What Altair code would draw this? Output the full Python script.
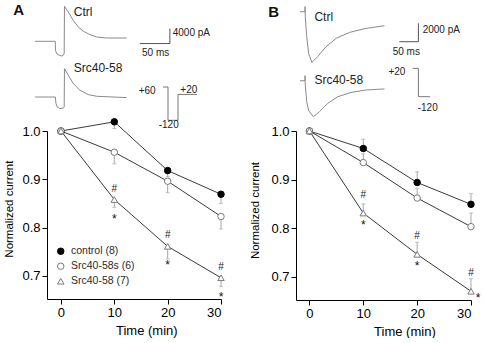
import altair as alt
import pandas as pd

FONT = "Liberation Sans"

# ---- time course of normalized current (mean, s.e.m.) ----
time_min = [0, 10, 20, 30]
series = ["control (8)", "Src40-58s (6)", "Src40-58 (7)"]

# Panel A (error bars drawn downward)
a_control = [1.0, 1.019, 0.918, 0.869]
a_control_err = [0.0, 0.014, 0.013, 0.019]
a_scr = [1.0, 0.956, 0.896, 0.823]
a_scr_err = [0.0, 0.024, 0.024, 0.026]
a_src = [1.0, 0.858, 0.761, 0.696]
a_src_err = [0.0, 0.016, 0.026, 0.018]

# Panel B (error bars drawn upward)
b_control = [1.0, 0.964, 0.894, 0.849]
b_control_err = [0.0, 0.019, 0.022, 0.022]
b_scr = [1.0, 0.935, 0.862, 0.803]
b_scr_err = [0.0, 0.018, 0.020, 0.028]
b_src = [1.0, 0.831, 0.746, 0.670]
b_src_err = [0.0, 0.019, 0.025, 0.026]

# ---- example current traces (time in ms, current in pA) ----
a_ctrl_t = [-34, 0, 0.3, 2.3, 6.7, 10.7, 13.3, 14.8, 15.3, 21.7, 30, 38.3, 46.7, 57.8, 69, 85.7, 119]
a_ctrl_i = [0, 0, -2400, -3280, -3730, -3920, -3730, -3300, 9330, 7810, 5600, 3810, 2670, 1790, 1150, 880, 880]
a_src_t = [-34, 0, 1.2, 3.3, 7.8, 13.3, 14.8, 15.3, 21.7, 30, 41.2, 55, 69, 119]
a_src_i = [0, 0, -1760, -2670, -3090, -2930, -2700, 7570, 5790, 3570, 1790, 640, 190, -160]
b_ctrl_t = [-13, 0, 0.1, 0.8, 4.5, 9.7, 18.4, 33.4, 55.3, 81.6, 116.8, 160.5, 209]
b_ctrl_i = [0, 0, 550, -550, -2730, -4580, -5530, -4900, -3820, -2910, -2260, -1820, -1530]
b_src_t = [-13, 0, 0.1, 0.8, 4.5, 9.7, 22.1, 37.9, 59.7, 86, 121, 160.5, 209]
b_src_i = [0, 0, 550, -550, -2290, -3270, -3930, -3380, -2480, -1750, -1280, -1010, -900]

# scale bars: 50 ms x 4000 pA (A), 50 ms x 2000 pA (B)
a_bar_t = [141, 191, 191]
a_bar_i = [-600, -600, 3400]
b_bar_t = [248.4, 298.4, 298.4]
b_bar_i = [-3272, -3272, -1272]

# voltage protocols (ms, mV)
a_prot_t = [0, 10, 10, 30, 30, 68]
a_prot_v = [60, 60, -120, -120, 20, 20]
b_prot_t = [0, 11.4, 11.4, 35]
b_prot_v = [20, 20, -120, -120]


def summary_frame(means, errs, direction):
    rows = []
    for name, m, e in zip(series, means, errs):
        for t, v, s in zip(time_min, m, e):
            lo, hi = (v - s, v) if direction < 0 else (v, v + s)
            rows.append(dict(time=t, series=name, mean=v, err=s, lo=lo, hi=hi,
                             end=lo if direction < 0 else hi))
    return pd.DataFrame(rows)


def path_frame(t, v):
    return pd.DataFrame({"t": t, "v": v, "i": list(range(len(t)))})


def text_frame(labels, t, v):
    return pd.DataFrame({"label": labels, "t": t, "v": v})


def main_plot(df, shapes, fills, strokes, xdom, ytitle_xy, xtitle_xy, legend_xy,
              hash_dy, star_dy, star_last_dx, star_last_dy):
    xs = alt.Scale(domain=xdom, nice=False, zero=False)
    ys = alt.Scale(domain=[0.652, 1.0], nice=False, zero=False)
    x = alt.X("time:Q", scale=xs, axis=alt.Axis(
        values=time_min, title="Time (min)", orient="bottom",
        titleX=xtitle_xy[0], titleY=xtitle_xy[1], titleBaseline="middle",
        titleFontSize=13, titleFontWeight=400))
    y_axis = alt.Axis(values=[0.7, 0.8, 0.9, 1.0], format=".1f", title="Normalized current",
                      orient="left", titleX=ytitle_xy[0], titleY=ytitle_xy[1],
                      titleBaseline="middle", titleFontSize=11.5, titleFontWeight=400)
    base = alt.Chart(df)
    err = base.transform_filter("datum.err > 0")
    rules = err.mark_rule(color="#a8a8a8", strokeWidth=1).encode(
        x=x, y=alt.Y("lo:Q", scale=ys, axis=y_axis), y2="hi:Q")
    caps = err.mark_tick(color="#a8a8a8", orient="horizontal", size=4, thickness=1).encode(
        x="time:Q", y=alt.Y("end:Q", scale=ys))
    lines = base.mark_line(color="#3a3a3a", strokeWidth=1).encode(
        x="time:Q", y=alt.Y("mean:Q", scale=ys), detail="series:N")
    leg = alt.Legend(orient="none", legendX=legend_xy[0], legendY=legend_xy[1], title=None,
                     labelFont=FONT, labelFontSize=10.5, labelColor="#2a2a2a",
                     symbolSize=42, symbolStrokeWidth=1, rowPadding=4, labelOffset=5,
                     padding=0)
    points = base.mark_point(opacity=1, strokeWidth=1, size=42).encode(
        x="time:Q", y=alt.Y("mean:Q", scale=ys),
        shape=alt.Shape("series:N", scale=alt.Scale(domain=series, range=shapes), legend=leg),
        fill=alt.Fill("series:N", scale=alt.Scale(domain=series, range=fills), legend=leg),
        stroke=alt.Stroke("series:N", scale=alt.Scale(domain=series, range=strokes), legend=leg),
    )
    marked = base.transform_filter(
        (alt.datum.series == series[2]) & (alt.datum.time > 0))
    hashes = marked.mark_text(text="#", font=FONT, fontSize=10, color="#222",
                              baseline="alphabetic", dy=hash_dy).encode(
        x="time:Q", y=alt.Y("mean:Q", scale=ys))
    star_src = marked if star_last_dx == 0 else marked.transform_filter("datum.time < 30")
    stars = star_src.mark_text(text="*", font=FONT, fontSize=12, color="#111",
                               baseline="alphabetic", dy=star_dy).encode(
        x="time:Q", y=alt.Y("mean:Q", scale=ys))
    layers = [rules, caps, lines, points, hashes, stars]
    if star_last_dx != 0:
        layers.append(marked.transform_filter("datum.time == 30").mark_text(
            text="*", font=FONT, fontSize=12, color="#111", baseline="alphabetic",
            dx=star_last_dx, dy=star_last_dy).encode(
            x="time:Q", y=alt.Y("mean:Q", scale=ys)))
    return alt.layer(*layers)


def trace(df, xs, ys, color, labels=None, size=12):
    line = alt.Chart(df).mark_line(color=color, strokeWidth=1).encode(
        x=alt.X("t:Q", scale=xs, axis=None), y=alt.Y("v:Q", scale=ys, axis=None),
        order="i:Q")
    if labels is None:
        return line
    txt = alt.Chart(labels).mark_text(font=FONT, fontSize=size, align="left",
                                      baseline="middle", color="#222").encode(
        x=alt.X("t:Q", scale=xs, axis=None), y=alt.Y("v:Q", scale=ys, axis=None),
        text="label:N")
    return alt.layer(line, txt)


def letter(ch, x, y):
    return alt.Chart(pd.DataFrame({"label": [ch]})).mark_text(
        font=FONT, fontSize=15, fontWeight="bold", color="#111",
        align="center", baseline="middle").encode(
        x=alt.value(x), y=alt.value(y), text="label:N")


# ---------------- panel A ----------------
a_df = summary_frame([a_control, a_scr, a_src], [a_control_err, a_scr_err, a_src_err], -1)
a_main = main_plot(a_df, ["circle", "circle", "triangle-up"], ["black", "white", "white"],
                   ["black", "#7a7a7a", "#7a7a7a"], [-2.62, 30],
                   (-37.8, 77.6), (99.3, 31.3), (8.5, 115), -8, 23, 0, 0)
a_tx = alt.Scale(domain=[-35, 195], range=[-12.7, 125.3])
a_ctrl_y = alt.Scale(domain=[-5000, 10000], range=[-70.95, -127.2])
a_src_y = alt.Scale(domain=[-5000, 10000], range=[-15.25, -71.5])
a_ctrl = alt.layer(
    trace(path_frame(a_ctrl_t, a_ctrl_i), a_tx, a_ctrl_y, "#8a8a8a",
          text_frame(["Ctrl"], [30.7], [7813])),
    trace(path_frame(a_bar_t, a_bar_i), a_tx, a_ctrl_y, "#555555",
          text_frame(["50 ms", "4000 pA"], [144.5, 195.7], [-3120, 2133]), size=10),
)
a_srcl = trace(path_frame(a_src_t, a_src_i), a_tx, a_src_y, "#8a8a8a",
               text_frame(["Src40-58"], [30.7], [7650]))
a_px = alt.Scale(domain=[0, 68], range=[116, 150])
a_pv = alt.Scale(domain=[-120, 60], range=[-10.7, -44])
a_prot = trace(path_frame(a_prot_t, a_prot_v), a_px, a_pv, "#777777",
               text_frame(["+60", "+20", "-120"], [-48.6, 34.6, -8.6], [38.4, 45.4, -147]),
               size=10)
panel_a = alt.layer(a_main, a_ctrl, a_srcl, a_prot, letter("A", -28.3, -120.7)).resolve_scale(
    x="independent", y="independent").properties(width=174, height=168)

# ---------------- panel B ----------------
b_df = summary_frame([b_control, b_scr, b_src], [b_control_err, b_scr_err, b_src_err], 1)
b_main = main_plot(b_df, ["square", "square", "triangle-down"], ["black", "white", "white"],
                   ["black", "#7a7a7a", "#7a7a7a"], [-2.5, 30],
                   (-40.3, 79), (108.4, 31), (8.8, 118.7), -15.5, 16, 7, 11)
b_tx = alt.Scale(domain=[-15, 320], range=[3.3, 130.6])
b_ctrl_y = alt.Scale(domain=[-6000, 3000], range=[-64.28, -146.8])
b_src_y = alt.Scale(domain=[-6000, 3000], range=[4.72, -77.8])
b_ctrl = alt.layer(
    trace(path_frame(b_ctrl_t, b_ctrl_i), b_tx, b_ctrl_y, "#8a8a8a",
          text_frame(["Ctrl"], [24.7], [-545])),
    trace(path_frame(b_bar_t, b_bar_i), b_tx, b_ctrl_y, "#555555",
          text_frame(["50 ms", "2000 pA"], [230.8, 309.7], [-4362, -1996]), size=10),
)
b_srcl = trace(path_frame(b_src_t, b_src_i), b_tx, b_src_y, "#8a8a8a",
               text_frame(["Src40-58"], [24.7], [76]))
b_px = alt.Scale(domain=[0, 35], range=[116.7, 134.2])
b_pv = alt.Scale(domain=[-120, 20], range=[-34.3, -62.6])
b_prot = trace(path_frame(b_prot_t, b_prot_v), b_px, b_pv, "#777777",
               text_frame(["+20", "-120"], [-48.6, 10], [3.7, -178]), size=10)
panel_b = alt.layer(b_main, b_ctrl, b_srcl, b_prot, letter("B", -22.3, -119.3)).resolve_scale(
    x="independent", y="independent").properties(width=175, height=169)

chart = alt.hconcat(panel_a, panel_b, spacing=22).properties(
    padding={"left": 3, "top": 3, "right": 0, "bottom": 0},
    background="white",
).configure(
    style={"guide-title": {"fontWeight": 400}},
).configure_view(stroke=None).configure_axis(
    labelFont=FONT, titleFont=FONT, labelFontSize=13, labelColor="black",
    titleColor="black", titleFontWeight=400, domainColor="black", tickColor="black",
    domainWidth=1, tickWidth=1, tickSize=5, labelPadding=2, grid=False,
)

chart.save("out.html", embed_options={"renderer": "svg", "actions": False})
